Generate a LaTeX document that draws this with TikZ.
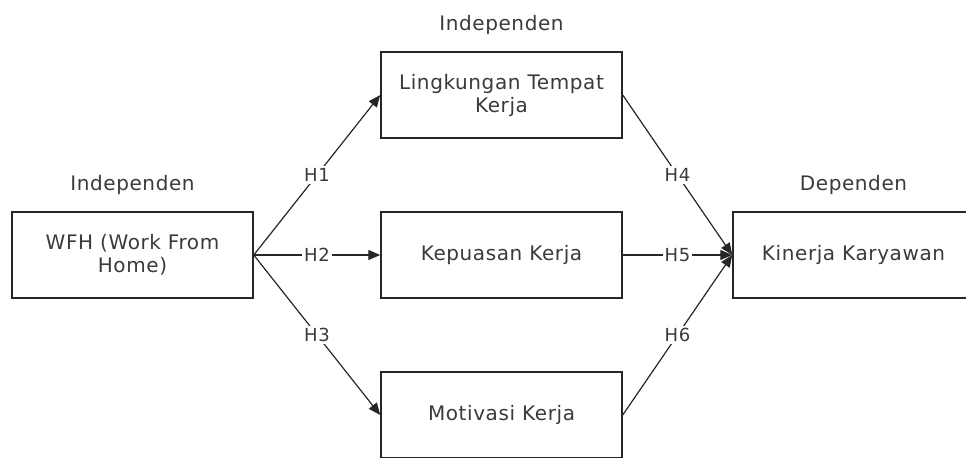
\documentclass[tikz,border=0pt]{standalone}
\usepackage{fontspec}
\setmainfont[LetterSpace=3]{DejaVu Sans}
\usetikzlibrary{arrows.meta,positioning}
\definecolor{txtgray}{HTML}{3A3A3A}

\begin{document}
\begin{tikzpicture}[x=0.5pt,y=-0.5pt,
    box/.style={draw=black!85, line width=0.75pt, minimum width=120.5pt, minimum height=43pt,
      align=center, text=txtgray, font=\fontsize{10}{11.5}\selectfont},
    heading/.style={text=txtgray, font=\fontsize{10}{12}\selectfont},
    link/.style={draw=black!85, line width=0.6pt, -{Triangle[length=6pt,width=5pt]}},
    hyp/.style={fill=white, inner sep=1pt, text=txtgray, font=\fontsize{9}{11}\selectfont}]

    % Frame
    \useasboundingbox (0,0) rectangle (966,457);
    \clip (0,0) rectangle (966,457);

    % Boxes
    \node[box] (wfh) at (132.5,255) {WFH (Work From\\Home)};
    \node[box] (lingkungan) at (501.5,95) {Lingkungan Tempat\\Kerja};
    \node[box] (kepuasan) at (501.5,255) {Kepuasan Kerja};
    \node[box] (motivasi) at (501.5,415) {Motivasi Kerja};
    \node[box] (kinerja) at (853.5,255) {Kinerja Karyawan};

    % Headings
    \node[heading, above=5pt of wfh] (indepA) {Independen};
    \node[heading, above=5pt of lingkungan] (indepB) {Independen};
    \node[heading, above=5pt of kinerja] (depen) {Dependen};

    % Hypotheses
    \draw[link] (wfh.east) -- node[hyp] {H1} (lingkungan.west);
    \draw[link] (wfh.east) -- node[hyp] {H2} (kepuasan.west);
    \draw[link] (wfh.east) -- node[hyp] {H3} (motivasi.west);
    \draw[link] (lingkungan.east) -- node[hyp] {H4} (kinerja.west);
    \draw[link] (kepuasan.east) -- node[hyp] {H5} (kinerja.west);
    \draw[link] (motivasi.east) -- node[hyp] {H6} (kinerja.west);
\end{tikzpicture}
\end{document}
